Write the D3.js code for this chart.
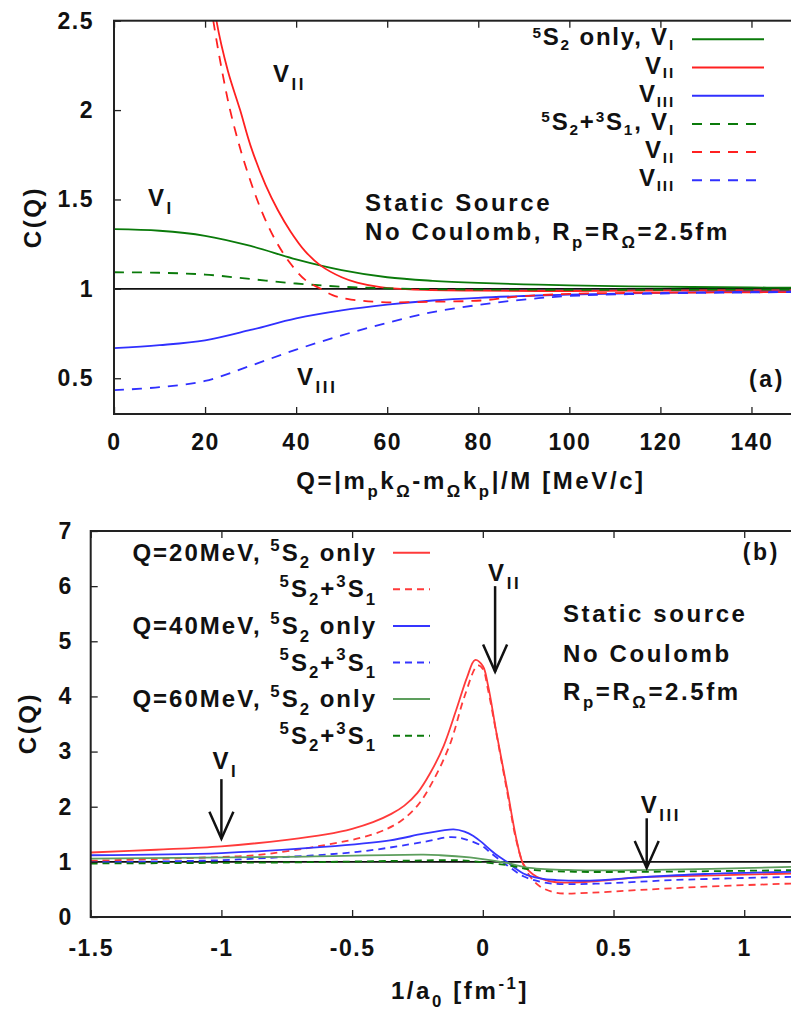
<!DOCTYPE html>
<html>
<head>
<meta charset="utf-8">
<script src="https://cdn.jsdelivr.net/npm/d3@7"></script>
<style>
  body { margin: 0; background: #fff; }
  svg text { font-family: "Liberation Sans", Arial, sans-serif; font-weight: bold; fill: #111; letter-spacing: 2.6px; }
</style>
</head>
<body>
<svg id="chart" width="791" height="1010"></svg>
<script>
// ---- panel (a): C(Q) vs Q ----
const qTicks = [0, 20, 40, 60, 80, 100, 120, 140];
const cTicksA = [0.5, 1, 1.5, 2, 2.5];

const onlyV1 = [[0,1.334],[10,1.325],[20,1.297],[30,1.24],[40,1.165],[50,1.105],[60,1.065],[70,1.045],[80,1.033],[90,1.025],[100,1.02],[120,1.012],[140,1.008],[150,1.006]];
const onlyV2 = [[20,3.0],[22.5,2.5],[25,2.22],[27.7,2.0],[30,1.8],[33.3,1.58],[36,1.44],[38.8,1.32],[42,1.21],[45.4,1.13],[50,1.065],[53.4,1.035],[58.5,1.01],[65,0.997],[80,0.99],[100,0.988],[120,0.99],[150,0.992]];
const onlyV3 = [[0,0.668],[10,0.685],[20,0.712],[30,0.77],[40,0.835],[50,0.88],[60,0.912],[70,0.935],[80,0.95],[90,0.96],[100,0.968],[120,0.978],[140,0.984],[150,0.986]];
const mixV1 = [[0,1.093],[10,1.09],[20,1.08],[30,1.055],[40,1.03],[50,1.012],[60,1.003],[70,0.998],[80,0.996],[100,0.995],[120,0.995],[150,0.996]];
const mixV2 = [[20,2.8],[21.8,2.5],[23.5,2.25],[25.5,2.0],[28,1.76],[30.7,1.55],[33,1.4],[35.5,1.27],[38.5,1.15],[42,1.05],[45.4,1.0],[48,0.965],[51.2,0.944],[58.5,0.926],[70,0.928],[80.6,0.935],[88,0.955],[100,0.972],[120,0.978],[150,0.982]];
const mixV3 = [[0,0.433],[10,0.45],[20,0.485],[30,0.57],[40,0.66],[50,0.74],[60,0.81],[70,0.87],[80,0.91],[90,0.94],[100,0.96],[120,0.974],[140,0.98],[150,0.982]];

// ---- panel (b): C vs 1/a0 ----
const invATicks = [-1.5, -1, -0.5, 0, 0.5, 1];
const cTicksB = [0, 1, 2, 3, 4, 5, 6, 7];

const q20only = [[-1.5,1.17],[-1.25,1.22],[-1,1.28],[-0.75,1.4],[-0.6,1.5],[-0.5,1.6],[-0.42,1.72],[-0.35,1.87],[-0.3,2.02],[-0.25,2.25],[-0.2,2.62],[-0.15,3.1],[-0.1,3.78],[-0.06,4.35],[-0.03,4.66],[0,4.55],[0.02,4.2],[0.053,3.32],[0.092,2.35],[0.13,1.38],[0.155,0.96],[0.19,0.78],[0.22,0.7],[0.28,0.63],[0.41,0.64],[0.6,0.72],[0.85,0.75],[1.2,0.79]];
const q20mix = [[-1.5,1.02],[-1.25,1.05],[-1,1.09],[-0.87,1.12],[-0.61,1.3],[-0.42,1.5],[-0.32,1.72],[-0.25,2.02],[-0.19,2.47],[-0.125,3.14],[-0.07,4.0],[-0.02,4.56],[0,4.5],[0.02,4.12],[0.053,3.3],[0.092,2.3],[0.13,1.35],[0.16,0.9],[0.19,0.68],[0.22,0.55],[0.28,0.44],[0.41,0.44],[0.6,0.49],[0.85,0.55],[1.2,0.61]];
const q40only = [[-1.5,1.12],[-1,1.16],[-0.61,1.27],[-0.355,1.39],[-0.227,1.51],[-0.112,1.59],[-0.07,1.55],[-0.036,1.47],[0,1.34],[0.028,1.22],[0.06,1.1],[0.092,1.0],[0.155,0.79],[0.22,0.7],[0.283,0.67],[0.41,0.66],[0.6,0.72],[0.85,0.78],[1.2,0.82]];
const q40mix = [[-1.5,0.99],[-1,1.03],[-0.87,1.06],[-0.48,1.18],[-0.227,1.36],[-0.12,1.45],[-0.06,1.4],[0,1.28],[0.028,1.17],[0.092,0.94],[0.155,0.74],[0.22,0.64],[0.283,0.6],[0.47,0.61],[0.73,0.67],[1.2,0.73]];
const q60only = [[-1.5,1.06],[-0.75,1.09],[-0.227,1.13],[-0.163,1.12],[-0.05,1.08],[0,1.05],[0.092,0.98],[0.18,0.89],[0.35,0.85],[0.6,0.85],[1.2,0.91]];
const q60mix = [[-1.5,0.97],[-0.75,0.99],[-0.3,1.02],[-0.1,1.03],[-0.036,1.01],[0.092,0.94],[0.2,0.85],[0.35,0.82],[0.63,0.82],[1.2,0.85]];

const svg = d3.select('#chart');

// text with sub/superscripts; opts tunes the script size and offsets
function rich(g, x, y, parts, anchor, size, opts = {}) {
  const { sub = 0.32, sup = 0.42, scale = 0.7 } = opts;
  const t = g.append('text').attr('x', x).attr('y', y)
      .attr('text-anchor', anchor).style('font-size', size + 'px');
  let shift = 0;
  parts.forEach(([s, k]) => {
    const off = k === 'sub' ? sub * size : k === 'sup' ? -sup * size : 0;
    t.append('tspan').attr('dy', off - shift)
        .style('font-size', (k === 'n' ? size : scale * size) + 'px').text(s);
    shift = off;
  });
  return t;
}

function frame(g, x, y, xTicks, yTicks, xPad, yPad) {
  const [x0, x1] = x.range(), [y0, y1] = y.range();
  const fmt = d => d3.format('~g')(d).replace('−', '-');
  g.append('g').attr('transform', `translate(0,${y0})`)
      .call(d3.axisBottom(x).tickValues(xTicks).tickSize(-7).tickPadding(xPad).tickFormat(fmt));
  g.append('g').attr('transform', `translate(0,${y1})`)
      .call(d3.axisTop(x).tickValues(xTicks).tickSize(-7).tickFormat(''));
  g.append('g').attr('transform', `translate(${x0},0)`)
      .call(d3.axisLeft(y).tickValues(yTicks).tickSize(-7).tickPadding(yPad).tickFormat(fmt));
  g.selectAll('.domain').remove();
  g.selectAll('.tick line').attr('stroke', '#222').attr('stroke-width', 1.3);
  g.selectAll('.tick text').style('font-size', '23px').style('letter-spacing', '1.5px').attr('fill', '#111');
  g.append('rect').attr('x', x0).attr('y', y1).attr('width', x1 - x0).attr('height', y0 - y1)
      .attr('fill', 'none').attr('stroke', '#222').attr('stroke-width', 2);
}

function curves(g, x, y, series, clipId) {
  const [x0, x1] = x.range(), [y0, y1] = y.range();
  g.append('clipPath').attr('id', clipId).append('rect')
      .attr('x', x0).attr('y', y1).attr('width', x1 - x0).attr('height', y0 - y1);
  g.append('line').attr('x1', x0).attr('x2', x1).attr('y1', y(1)).attr('y2', y(1))
      .attr('stroke', '#111').attr('stroke-width', 1.6);
  const line = d3.line().x(d => x(d[0])).y(d => y(d[1])).curve(d3.curveCatmullRom.alpha(0.5));
  const cg = g.append('g').attr('clip-path', `url(#${clipId})`);
  series.forEach(s => {
    cg.append('path').datum(s.data).attr('d', line).attr('fill', 'none')
        .attr('stroke', s.color).attr('stroke-width', 1.8)
        .attr('stroke-dasharray', s.dash || null);
  });
}

// ---------- panel (a) ----------
const xa = d3.scaleLinear().domain([0, 150]).range([114, 797]);
const ya = d3.scaleLinear().domain([0.3, 2.5]).range([414, 20.7]);
const ga = svg.append('g');

const G = '#0a7a0a', R = '#ff2020', B = '#3030ff';
const seriesA = [
  { data: onlyV1, color: G, label: [['5','sup'],['S','n'],['2','sub'],[' only, V','n'],['I','sub']] },
  { data: onlyV2, color: R, label: [['V','n'],['II','sub']] },
  { data: onlyV3, color: B, label: [['V','n'],['III','sub']] },
  { data: mixV1, color: G, dash: '10,8', label: [['5','sup'],['S','n'],['2','sub'],['+','n'],['3','sup'],['S','n'],['1','sub'],[', V','n'],['I','sub']] },
  { data: mixV2, color: R, dash: '10,8', label: [['V','n'],['II','sub']] },
  { data: mixV3, color: B, dash: '10,8', label: [['V','n'],['III','sub']] }
];
curves(ga, xa, ya, seriesA, 'clipA');
frame(ga, xa, ya, qTicks, cTicksA, 20, 20);

seriesA.forEach((s, i) => {
  const ry = 39.3 + i * 28.2;
  rich(ga, 675, ry + 6, s.label, 'end', 24, { sub: 0.2, sup: 0.32, scale: 0.64 }).style('letter-spacing', '1.8px');
  ga.append('line').attr('x1', 692).attr('x2', 764).attr('y1', ry).attr('y2', ry)
      .attr('stroke', s.color).attr('stroke-width', 2).attr('stroke-dasharray', s.dash || null);
});

rich(ga, 273, 82, [['V','n'],['II','sub']], 'start', 24);
rich(ga, 148, 206, [['V','n'],['I','sub']], 'start', 24);
rich(ga, 297, 385, [['V','n'],['III','sub']], 'start', 24);
rich(ga, 365, 211, [['Static Source','n']], 'start', 24);
rich(ga, 365, 240, [['No Coulomb, R','n'],['p','sub'],['=R','n'],['Ω','sub'],['=2.5fm','n']], 'start', 24);
rich(ga, 785, 387, [['(a)','n']], 'end', 23);
rich(ga, 471, 489, [['Q=|m','n'],['p','sub'],['k','n'],['Ω','sub'],['-m','n'],['Ω','sub'],['k','n'],['p','sub'],['|/M [MeV/c]','n']], 'middle', 24);
rich(ga, 0, 0, [['C(Q)','n']], 'middle', 24).attr('transform', 'translate(41,217) rotate(-90)');

// ---------- panel (b) ----------
const xb = d3.scaleLinear().domain([-1.5, 1.2]).range([90.7, 796.5]);
const yb = d3.scaleLinear().domain([0, 7]).range([917, 531]);
const gb = svg.append('g');

const R2 = '#ff3a3a', B2 = '#3535ff', G2 = '#5d9e5d', G3 = '#0a7a0a';
const seriesB = [
  { data: q20only, color: R2, label: [['Q=20MeV, ','n'],['5','sup'],['S','n'],['2','sub'],[' only','n']] },
  { data: q20mix, color: R2, dash: '7,5', label: [['5','sup'],['S','n'],['2','sub'],['+','n'],['3','sup'],['S','n'],['1','sub']] },
  { data: q40only, color: B2, label: [['Q=40MeV, ','n'],['5','sup'],['S','n'],['2','sub'],[' only','n']] },
  { data: q40mix, color: B2, dash: '7,5', label: [['5','sup'],['S','n'],['2','sub'],['+','n'],['3','sup'],['S','n'],['1','sub']] },
  { data: q60only, color: G2, label: [['Q=60MeV, ','n'],['5','sup'],['S','n'],['2','sub'],[' only','n']] },
  { data: q60mix, color: G3, dash: '7,5', label: [['5','sup'],['S','n'],['2','sub'],['+','n'],['3','sup'],['S','n'],['1','sub']] }
];
curves(gb, xb, yb, seriesB, 'clipB');
frame(gb, xb, yb, invATicks, cTicksB, 23, 18);

seriesB.forEach((s, i) => {
  const ry = 552.7 + i * 36.6;
  rich(gb, 377, ry + 8, s.label, 'end', 24).style('letter-spacing', '2px');
  gb.append('line').attr('x1', 393).attr('x2', 430).attr('y1', ry).attr('y2', ry)
      .attr('stroke', s.color).attr('stroke-width', 2).attr('stroke-dasharray', s.dash || null);
});

const arrows = [
  { x: -1, from: 2.5, to: 1.42, label: [['V','n'],['I','sub']], lx: -9, ly: -10 },
  { x: 0.047, from: 6.0, to: 4.45, label: [['V','n'],['II','sub']], lx: -7, ly: -5 },
  { x: 0.627, from: 1.79, to: 0.89, label: [['V','n'],['III','sub']], lx: -6, ly: -5 }
];
arrows.forEach(a => {
  const ax = xb(a.x), ay1 = yb(a.from), ay2 = yb(a.to);
  gb.append('line').attr('x1', ax).attr('x2', ax).attr('y1', ay1).attr('y2', ay2)
      .attr('stroke', '#111').attr('stroke-width', 2.5);
  gb.append('path').attr('d', `M${ax - 12},${ay2 - 27}L${ax},${ay2}L${ax + 12},${ay2 - 27}`)
      .attr('fill', 'none').attr('stroke', '#111').attr('stroke-width', 2.5);
  rich(gb, ax + a.lx, ay1 + a.ly, a.label, 'start', 24);
});

rich(gb, 563, 622, [['Static source','n']], 'start', 24);
rich(gb, 563, 662, [['No Coulomb','n']], 'start', 24);
rich(gb, 563, 700, [['R','n'],['p','sub'],['=R','n'],['Ω','sub'],['=2.5fm','n']], 'start', 24);
rich(gb, 780, 560, [['(b)','n']], 'end', 23);
rich(gb, 460, 999, [['1/a','n'],['0','sub'],[' [fm','n'],['-1','sup'],[']','n']], 'middle', 24);
rich(gb, 0, 0, [['C(Q)','n']], 'middle', 24).attr('transform', 'translate(36,723) rotate(-90)');
</script>
</body>
</html>
